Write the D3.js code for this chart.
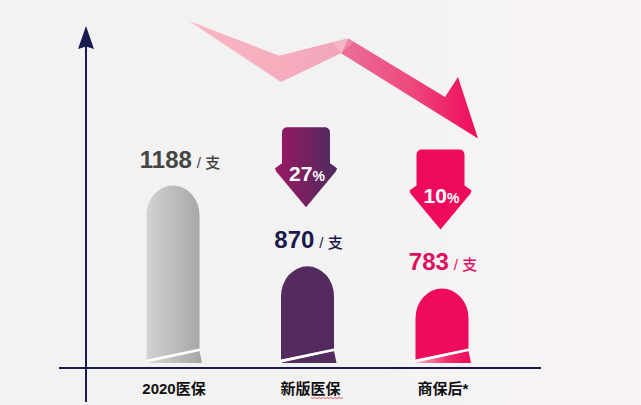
<!DOCTYPE html>
<html><head><meta charset="utf-8">
<script src="https://cdn.jsdelivr.net/npm/d3@7"></script>
<style>html,body{margin:0;padding:0;background:#f2f2f2;}svg{display:block;}</style>
</head><body>
<svg id="chart" width="641" height="405"></svg>
<script>
// ---- data ----
const categories = ["2020医保", "新版医保", "商保后*"];
const prices = [1188, 870, 783];
const unitLabel = "/ 支";
const labelColors = ["#454545", "#1b1a4e", "#de1060"];

// ---- layout ----
const W = 641, H = 405;
const baseY = 363;
const barW = 53;
const fontLatin = "'Liberation Sans', Arial, 'Noto Sans CJK SC', sans-serif";

const svg = d3.select("#chart");
const defs = svg.append("defs");

function lin(id, stops, x1, x2, user) {
  const g = defs.append("linearGradient").attr("id", id);
  if (user) g.attr("gradientUnits", "userSpaceOnUse").attr("x1", x1).attr("x2", x2).attr("y1", 0).attr("y2", 0);
  else g.attr("x1", "0%").attr("x2", "100%").attr("y1", "0%").attr("y2", "0%");
  stops.forEach(([o, c]) => g.append("stop").attr("offset", o).attr("stop-color", c));
  return `url(#${id})`;
}

const bg = lin("bg", [[0, "#f2f2f2"], [0.55, "#f3f2f2"], [1, "#f9f4f5"]]);
const barFills = [
  lin("b0", [[0, "#d3d3d3"], [1, "#a7a7a7"]]),
  lin("b1", [[0, "#552b5f"], [1, "#522a5d"]]),
  lin("b2", [[0, "#ee0a5c"], [1, "#ee0a5c"]])
];
const sliverFills = [
  lin("s0", [[0, "#d8d8d8"], [1, "#a5a5a5"]]),
  lin("s1", [[0, "#5a2f63"], [1, "#522a5d"]]),
  lin("s2", [[0, "#f7a9c0"], [0.6, "#ef2a6c"], [1, "#ee0a5c"]])
];
const arrowFills = [null,
  lin("a1", [[0, "#9c1862"], [1, "#4c2b5e"]]),
  lin("a2", [[0, "#ee0a5c"], [1, "#ee0a5c"]])
];
const trendA = lin("tA", [[0, "#fab7c3"], [1, "#f2a5ba"]], 189, 348, true);
const trendB = lin("tB", [[0, "#ea7098"], [0.5, "#ee4a7e"], [1, "#ee0a5c"]], 340, 478, true);

svg.append("rect").attr("width", W).attr("height", H).attr("fill", bg);

// ---- scales ----
const x = d3.scalePoint().domain(categories).range([173, 442]);
const y = d3.scaleLinear().domain([490, 1188]).range([baseY, 185.5]);

// ---- decorative trend arrow ----
const trendLeft = [[189, 21], [279, 55.7], [348, 38.3], [341, 53.3], [281, 82]];
const trendRight = [[348, 38.3], [445, 97], [458, 77], [478, 138.5], [341, 53.3]];
svg.append("path").attr("d", d3.line()(trendRight) + "Z").attr("fill", trendB);
svg.append("path").attr("d", d3.line()(trendLeft) + "Z").attr("fill", trendA);
svg.append("path").attr("d", d3.line()([[333, 42.6], [348, 38.3], [354, 41.9], [341, 53.3]]) + "Z")
  .attr("fill", "#ffffff").attr("opacity", 0.18);

// ---- axes ----
const axisColor = "#1b1a4f";
svg.append("line").attr("x1", 59).attr("x2", 541).attr("y1", 368).attr("y2", 368)
  .attr("stroke", axisColor).attr("stroke-width", 2);
svg.append("line").attr("x1", 86).attr("x2", 86).attr("y1", 40).attr("y2", 402)
  .attr("stroke", axisColor).attr("stroke-width", 2);
svg.append("path").attr("d", "M86,26 L78,49 L86,46.5 L94,49 Z").attr("fill", axisColor);

// ---- bars ----
const data = categories.map((c, i) => ({ c, v: prices[i], i }));
function bodyPath(d) {
  const x0 = x(d.c) - barW / 2, x1 = x(d.c) + barW / 2, top = y(d.v);
  const rx = barW / 2, ry = barW / 2 * 1.12;
  return `M${x0},${baseY - 3.4} L${x0},${top + ry} A${rx},${ry} 0 0 1 ${x1},${top + ry} L${x1},${baseY - 14.6} Z`;
}
function sliverPath(d) {
  const x0 = x(d.c) - barW / 2, x1 = x(d.c) + barW / 2;
  return `M${x0 + 1},${baseY} L${x0 + 1},${baseY - 0.6} L${x1},${baseY - 12} L${x1 + 2.5},${baseY} Z`;
}
const bars = svg.append("g").selectAll("g").data(data).join("g");
bars.append("path").attr("d", bodyPath).attr("fill", d => barFills[d.i]);
bars.append("path").attr("d", sliverPath).attr("fill", d => sliverFills[d.i]);
bars.append("line")
  .attr("x1", d => x(d.c) - barW / 2).attr("y1", baseY - 2)
  .attr("x2", d => x(d.c) + barW / 2 + 1).attr("y2", baseY - 13.3)
  .attr("stroke", "#ffffff").attr("stroke-width", 2);

// ---- value labels ----
const vl = svg.append("g").selectAll("text").data(data).join("text")
  .attr("x", d => x(d.c) + (d.i === 0 ? 7 : 1))
  .attr("y", d => y(d.v) - 18)
  .attr("text-anchor", "middle")
  .attr("font-family", fontLatin)
  .attr("fill", d => labelColors[d.i]);
vl.append("tspan").attr("font-size", 24).attr("font-weight", "bold").text(d => d.v);
vl.append("tspan").attr("font-size", 15).attr("font-weight", 500).attr("dx", 5).text(unitLabel);

// ---- change arrows ----
const changes = data.slice(1).map(d => ({
  ...d, pct: d3.format(".0f")((prices[d.i - 1] - d.v) / prices[d.i - 1] * 100)
}));
function downArrow(cx, top) {
  const sw = 24, hw = 31, r = 5;
  const p = d3.path();
  p.moveTo(cx - sw, top + r);
  p.arcTo(cx - sw, top, cx - sw + r, top, r);
  p.lineTo(cx + sw - r, top);
  p.arcTo(cx + sw, top, cx + sw, top + r, r);
  p.lineTo(cx + sw, top + 36);
  p.lineTo(cx + hw, top + 41);
  p.lineTo(cx + hw - 1, top + 44);
  p.lineTo(cx, top + 80);
  p.lineTo(cx - hw + 1, top + 44);
  p.lineTo(cx - hw, top + 41);
  p.lineTo(cx - sw, top + 36);
  p.closePath();
  return p.toString();
}
const arr = svg.append("g").selectAll("g").data(changes).join("g");
arr.append("path").attr("d", d => downArrow(x(d.c) - 1.5, y(d.v) - 139)).attr("fill", d => arrowFills[d.i]);
const at = arr.append("text")
  .attr("x", d => x(d.c) - 0.5).attr("y", d => y(d.v) - 139 + 53.5)
  .attr("text-anchor", "middle").attr("font-family", fontLatin).attr("font-weight", "bold")
  .attr("fill", "#ffffff");
at.append("tspan").attr("font-size", 21).text(d => d.pct);
at.append("tspan").attr("font-size", 14).text("%");

// ---- category labels ----
svg.append("g").selectAll("text").data(data).join("text")
  .attr("x", d => x(d.c) + (d.i === 1 ? 3 : 1)).attr("y", 393.5)
  .attr("text-anchor", "middle")
  .attr("font-family", fontLatin).attr("font-weight", "bold").attr("font-size", 15)
  .attr("fill", "#111111").text(d => d.c);

// spell-check squiggle under 医保
const sq = [];
for (let i = 0; i <= 16; i++) sq.push([311 + i * 2, 397.5 + (i % 2 ? 1 : 0)]);
svg.append("path").attr("d", d3.line()(sq)).attr("fill", "none").attr("stroke", "#e23b3b").attr("stroke-width", 0.8);
</script>
</body></html>
